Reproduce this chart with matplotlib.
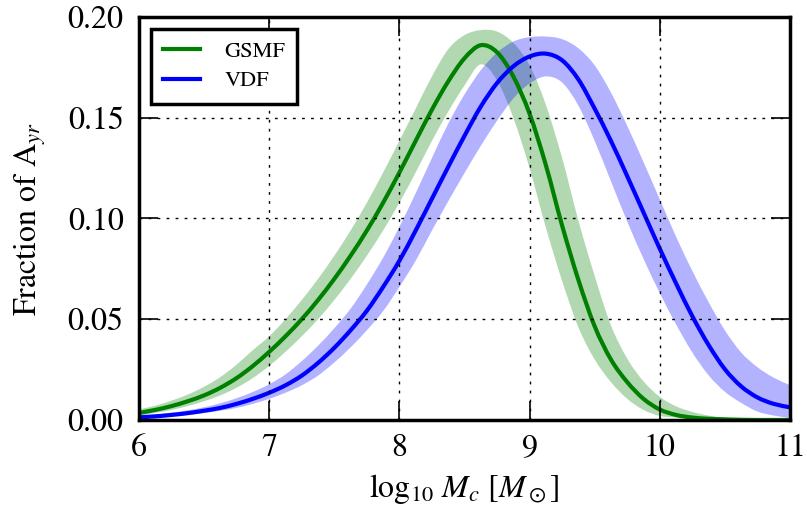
import numpy as np
import matplotlib.pyplot as plt
from matplotlib.path import Path
from matplotlib.patches import PathPatch

# log10 Mc grid
mass = [6.000, 6.125, 6.250, 6.375, 6.500, 6.625, 6.750, 6.875,
        7.000, 7.125, 7.250, 7.375, 7.500, 7.625, 7.750, 7.875,
        8.000, 8.125, 8.250, 8.375, 8.500, 8.625, 8.750, 8.875,
        9.000, 9.125, 9.250, 9.375, 9.500, 9.625, 9.750, 9.875,
        10.000, 10.125, 10.250, 10.375, 10.500, 10.625, 10.750, 10.875,
        11.000]

# GSMF: median and band
gsmf_mid = [0.0035, 0.0050, 0.0069, 0.0093, 0.0122, 0.0160, 0.0208, 0.0268,
            0.0338, 0.0415, 0.0500, 0.0595, 0.0700, 0.0815, 0.0940, 0.1078,
            0.1228, 0.1385, 0.1540, 0.1680, 0.1795, 0.1860, 0.1825, 0.1705,
            0.1520, 0.1265, 0.0965, 0.0695, 0.0465, 0.0300, 0.0188, 0.0105,
            0.0052, 0.0025, 0.0012, 0.0006, 0.0003, 0.0001, 0.0000, 0.0000,
            0.0000]
gsmf_hi = [0.0053, 0.0071, 0.0096, 0.0126, 0.0165, 0.0213, 0.0275, 0.0347,
           0.0415, 0.0500, 0.0595, 0.0700, 0.0815, 0.0940, 0.1078, 0.1228,
           0.1385, 0.1545, 0.1705, 0.1840, 0.1910, 0.1935, 0.1928, 0.1872,
           0.1760, 0.1565, 0.1300, 0.0990, 0.0715, 0.0470, 0.0305, 0.0192,
           0.0115, 0.0068, 0.0040, 0.0022, 0.0012, 0.0006, 0.0003, 0.0001,
           0.0000]
gsmf_lo = [0.0021, 0.0035, 0.0050, 0.0069, 0.0093, 0.0122, 0.0160, 0.0208,
           0.0268, 0.0338, 0.0415, 0.0500, 0.0595, 0.0700, 0.0815, 0.0940,
           0.1078, 0.1228, 0.1385, 0.1530, 0.1660, 0.1765, 0.1685, 0.1500,
           0.1250, 0.0955, 0.0690, 0.0460, 0.0300, 0.0188, 0.0105, 0.0050,
           0.0020, 0.0012, 0.0006, 0.0003, 0.0001, 0.0000, 0.0000, 0.0000,
           0.0000]

# VDF: median and band
vdf_mid = [0.0013, 0.0018, 0.0025, 0.0034, 0.0046, 0.0060, 0.0080, 0.0105,
           0.0135, 0.0172, 0.0220, 0.0283, 0.0358, 0.0445, 0.0542, 0.0660,
           0.0790, 0.0940, 0.1098, 0.1256, 0.1410, 0.1555, 0.1672, 0.1755,
           0.1804, 0.1818, 0.1785, 0.1690, 0.1545, 0.1385, 0.1210, 0.1030,
           0.0850, 0.0678, 0.0515, 0.0372, 0.0252, 0.0167, 0.0112, 0.0080,
           0.0063]
vdf_hi = [0.0020, 0.0027, 0.0036, 0.0048, 0.0063, 0.0083, 0.0108, 0.0139,
          0.0177, 0.0226, 0.0292, 0.0368, 0.0455, 0.0552, 0.0672, 0.0805,
          0.0958, 0.1125, 0.1300, 0.1470, 0.1615, 0.1735, 0.1823, 0.1878,
          0.1900, 0.1903, 0.1890, 0.1845, 0.1760, 0.1625, 0.1460, 0.1280,
          0.1095, 0.0910, 0.0740, 0.0585, 0.0445, 0.0335, 0.0262, 0.0210,
          0.0173]
vdf_lo = [0.0009, 0.0013, 0.0018, 0.0025, 0.0034, 0.0046, 0.0060, 0.0080,
          0.0105, 0.0135, 0.0172, 0.0220, 0.0285, 0.0360, 0.0445, 0.0540,
          0.0660, 0.0790, 0.0940, 0.1085, 0.1225, 0.1360, 0.1485, 0.1595,
          0.1670, 0.1705, 0.1675, 0.1560, 0.1385, 0.1185, 0.0985, 0.0800,
          0.0630, 0.0475, 0.0335, 0.0222, 0.0140, 0.0085, 0.0042, 0.0022,
          0.0010]


def smooth_codes(xs, ys):
    # cubic Bezier segments (Catmull-Rom) through the given points
    p = np.column_stack([xs, ys]).astype(float)
    n = len(p)
    verts = [p[0]]
    for i in range(n - 1):
        p0 = p[i - 1] if i > 0 else p[i]
        p3 = p[i + 2] if i + 2 < n else p[i + 1]
        verts.append(p[i] + (p[i + 1] - p0) / 6.0)
        verts.append(p[i + 1] - (p3 - p[i]) / 6.0)
        verts.append(p[i + 1])
    codes = [Path.MOVETO] + [Path.CURVE4] * (3 * (n - 1))
    return verts, codes


def curve(ax, xs, ys, color, lw):
    v, c = smooth_codes(xs, ys)
    ax.add_patch(PathPatch(Path(v, c), fill=False, edgecolor=color, lw=lw,
                           capstyle='butt'))


def band(ax, xs, lo, hi, color):
    v1, c1 = smooth_codes(xs, hi)
    v2, c2 = smooth_codes(xs[::-1], lo[::-1])
    c2 = [Path.LINETO] + c2[1:]
    v = v1 + v2 + [v1[0]]
    c = c1 + c2 + [Path.CLOSEPOLY]
    ax.add_patch(PathPatch(Path(v, c), facecolor=color, alpha=0.3, lw=0))


plt.rcParams['font.family'] = 'STIXGeneral'
plt.rcParams['mathtext.fontset'] = 'stix'

fig = plt.figure(figsize=(8.07, 5.09), dpi=100)
ax = fig.add_axes([0.1722, 0.1749, 0.8067, 0.7917])

band(ax, mass, gsmf_lo, gsmf_hi, 'g')
band(ax, mass, vdf_lo, vdf_hi, 'b')
curve(ax, mass, gsmf_mid, 'g', 3)
curve(ax, mass, vdf_mid, 'b', 3)

# legend proxies
ax.plot([], [], color='g', lw=3, label='GSMF')
ax.plot([], [], color='b', lw=3, label='VDF')

ax.set_xlim(6, 11)
ax.set_ylim(0, 0.20)
ax.set_xticks([6, 7, 8, 9, 10, 11])
ax.set_yticks([0.0, 0.05, 0.10, 0.15, 0.20])
ax.set_yticklabels(['0.00', '0.05', '0.10', '0.15', '0.20'])
ax.grid(True, color='k', linestyle=(0, (2, 4.5)), linewidth=1.0)

ax.tick_params(direction='in', top=True, right=True, length=14, width=1.2,
               labelsize=23)
ax.tick_params(axis='x', pad=10)
ax.tick_params(axis='y', pad=11)
for sp in ax.spines.values():
    sp.set_linewidth(2.5)

ax.set_xlabel(r'$\log_{10}\,M_c\ [M_\odot]$', fontsize=23, labelpad=6)
ax.set_ylabel(r'Fraction of A$_{yr}$', fontsize=23, labelpad=14)

leg = ax.legend(loc='upper left', fontsize=16, fancybox=False,
                handlelength=1.65, handletextpad=1.1, borderpad=0.55,
                labelspacing=0.4, borderaxespad=0.55)
leg.get_frame().set_edgecolor('k')
leg.get_frame().set_linewidth(2.5)
leg.get_frame().set_alpha(1)

fig.savefig('out.png', dpi=100)
